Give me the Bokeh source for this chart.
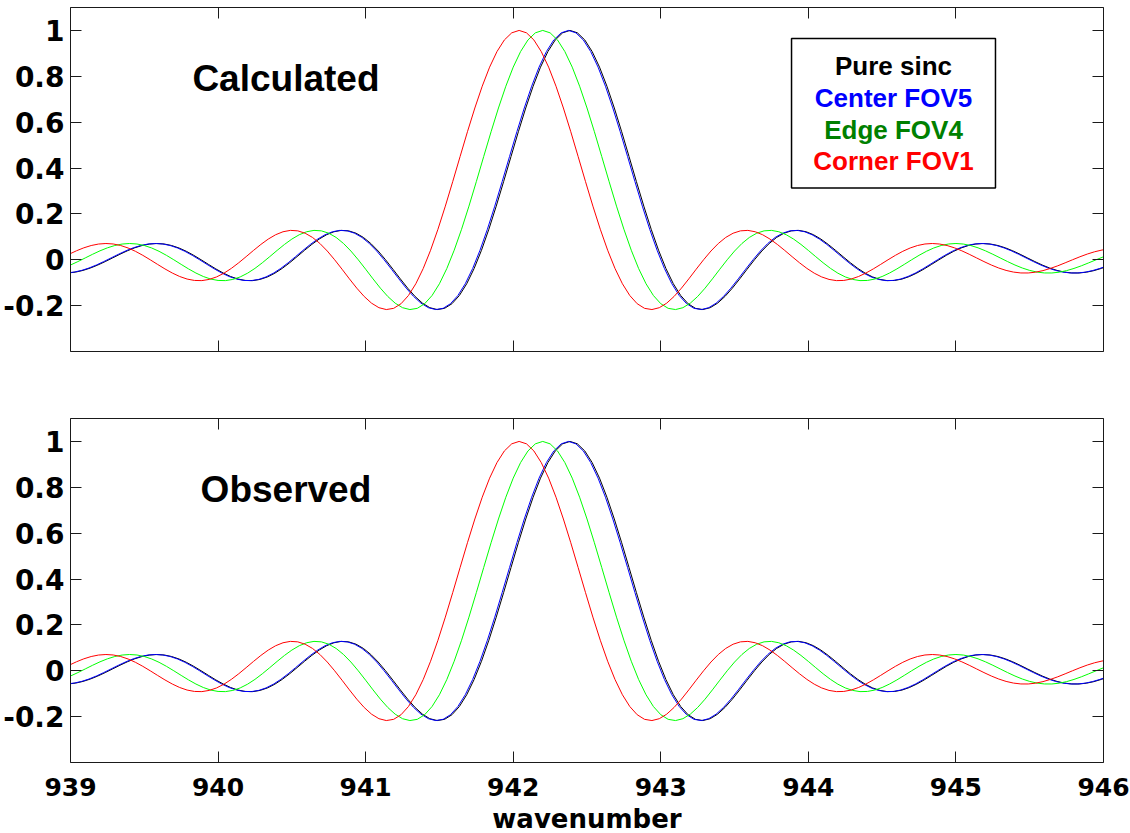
from bokeh.plotting import figure
from bokeh.layouts import column
from bokeh.models import (Range1d, LinearAxis, FixedTicker, CustomJSTickFormatter,
                          Label, BoxAnnotation)
from bokeh.embed import file_html
from bokeh.resources import INLINE

# ---------------- data ----------------
series_names = ["Pure sinc", "Center FOV5", "Edge FOV4", "Corner FOV1"]
line_colors = ["#000000", "#0000ff", "#00ff00", "#ff0000"]
text_colors = ["#000000", "#0000ff", "#008000", "#ff0000"]

# peak wavenumber of each instrument line shape
calc_peak = [942.385, 942.375, 942.20, 942.04]
obs_peak = [942.385, 942.375, 942.20, 942.04]

# line-shape profile: offset from the peak (cm-1) and value
profile_offset = [round(-3.5 + 0.05 * i, 2) for i in range(151)]
profile_value = [
    -0.0541, -0.0576, -0.0575, -0.0537, -0.0464, -0.0360, -0.0229, -0.0079, 0.0080, 0.0240,
    0.0390, 0.0520, 0.0621, 0.0686, 0.0709, 0.0688, 0.0622, 0.0514, 0.0369, 0.0194,
    0.0, -0.0202, -0.0399, -0.0579, -0.0730, -0.0841, -0.0902, -0.0909, -0.0857, -0.0748,
    -0.0585, -0.0376, -0.0131, 0.0135, 0.0407, 0.0668, 0.0902, 0.1091, 0.1221, 0.1281,
    0.1261, 0.1158, 0.0973, 0.0710, 0.0381, 0.0, -0.0412, -0.0833, -0.1238, -0.1600,
    -0.1892, -0.2090, -0.2171, -0.2118, -0.1916, -0.1559, -0.1046, -0.0384, 0.0415, 0.1331,
    0.2339, 0.3406, 0.4500, 0.5584, 0.6618, 0.7568, 0.8399, 0.9078, 0.9585, 0.9895,
    1.0,
    0.9895, 0.9585, 0.9078, 0.8399, 0.7568, 0.6618, 0.5584, 0.4500, 0.3406, 0.2339,
    0.1331, 0.0415, -0.0384, -0.1046, -0.1559, -0.1916, -0.2118, -0.2171, -0.2090, -0.1892,
    -0.1600, -0.1238, -0.0833, -0.0412, 0.0, 0.0381, 0.0710, 0.0973, 0.1158, 0.1261,
    0.1281, 0.1221, 0.1091, 0.0902, 0.0668, 0.0407, 0.0135, -0.0131, -0.0376, -0.0585,
    -0.0748, -0.0857, -0.0909, -0.0902, -0.0841, -0.0730, -0.0579, -0.0399, -0.0202, 0.0,
    0.0194, 0.0369, 0.0514, 0.0622, 0.0688, 0.0709, 0.0686, 0.0621, 0.0520, 0.0390,
    0.0240, 0.0080, -0.0079, -0.0229, -0.0360, -0.0464, -0.0537, -0.0575, -0.0576, -0.0541,
    -0.0473, -0.0378, -0.0263, -0.0134, 0.0, 0.0130, 0.0249, 0.0349, 0.0425, 0.0473,
]

x_ticks = [939, 940, 941, 942, 943, 944, 945, 946]
y_ticks = [-0.2, 0, 0.2, 0.4, 0.6, 0.8, 1]
x_label = "wavenumber"
panel_titles = ["Calculated", "Observed"]

TICK_FONT = "DejaVu Sans"
y_fmt = CustomJSTickFormatter(code="return String(Math.round(tick*10)/10);")


def style_axis(ax, labelled, size="28px"):
    ax.major_tick_in = 11
    ax.major_tick_out = 0
    ax.minor_tick_in = 0
    ax.minor_tick_out = 0
    ax.axis_line_color = "#1a1a1a"
    ax.axis_line_width = 1
    ax.major_tick_line_color = "#1a1a1a"
    ax.major_tick_line_width = 1
    if labelled:
        ax.major_label_text_font = TICK_FONT
        ax.major_label_text_font_style = "bold"
        ax.major_label_text_font_size = size
        ax.major_label_text_color = "black"
    else:
        # tick marks only: labels are not drawn
        ax.major_label_text_color = None
        ax.major_label_text_alpha = 0
        ax.major_label_text_font_size = "1px"
        ax.major_label_standoff = 0


def make_panel(title, peaks, bottom_labels, border_top, border_bottom):
    p = figure(frame_width=1033, frame_height=344,
               x_range=Range1d(939, 946), y_range=Range1d(-0.4, 1.1),
               x_axis_type=None, y_axis_type=None,
               output_backend="svg", toolbar_location=None,
               min_border_left=68, min_border_right=29,
               min_border_top=border_top, min_border_bottom=border_bottom)
    p.grid.visible = False
    p.outline_line_color = None
    p.background_fill_color = "white"
    p.border_fill_color = "white"

    for loc in ["below", "above"]:
        ax = LinearAxis(ticker=FixedTicker(ticks=x_ticks))
        lab = (loc == "below" and bottom_labels)
        style_axis(ax, lab, "25px")
        if lab:
            ax.major_label_standoff = 15
            ax.axis_label = x_label
            ax.axis_label_text_font = TICK_FONT
            ax.axis_label_text_font_style = "bold"
            ax.axis_label_text_font_size = "26px"
            ax.axis_label_text_color = "black"
            ax.axis_label_standoff = 5
        p.add_layout(ax, loc)
    for loc in ["left", "right"]:
        ax = LinearAxis(ticker=FixedTicker(ticks=y_ticks), formatter=y_fmt)
        lab = (loc == "left")
        style_axis(ax, lab, "28px")
        if lab:
            ax.major_label_standoff = 6
        p.add_layout(ax, loc)

    for name, col, pk in zip(series_names, line_colors, peaks):
        xs = [pk + d for d in profile_offset]
        p.line(xs, profile_value, line_color=col, line_width=1)

    p.add_layout(Label(x=940.46, y=0.79, text=title, text_font="Liberation Sans",
                       text_font_style="bold", text_font_size="37px",
                       text_align="center", text_baseline="middle", text_color="black"))
    return p


top = make_panel(panel_titles[0], calc_peak, False, 7, 33)
bottom = make_panel(panel_titles[1], obs_peak, True, 34, 60)

# legend box with coloured names (top panel)
top.add_layout(BoxAnnotation(left=943.886, right=945.268, top=0.965, bottom=0.313,
                             fill_color="white", fill_alpha=1.0,
                             line_color="black", line_alpha=1.0, line_width=1.5))
legend_y = [0.843, 0.704, 0.565, 0.430]
for name, col, yy in zip(series_names, text_colors, legend_y):
    top.add_layout(Label(x=944.577, y=yy, text=name, text_font="Liberation Sans",
                         text_font_style="bold", text_font_size="26px",
                         text_align="center", text_baseline="middle", text_color=col))

layout = column(top, bottom, spacing=0)
html = file_html(layout, INLINE)
html = html.replace("<head>", "<head><style>html,body{margin:0;overflow:hidden;}</style>", 1)
open("out.html", "w").write(html)
